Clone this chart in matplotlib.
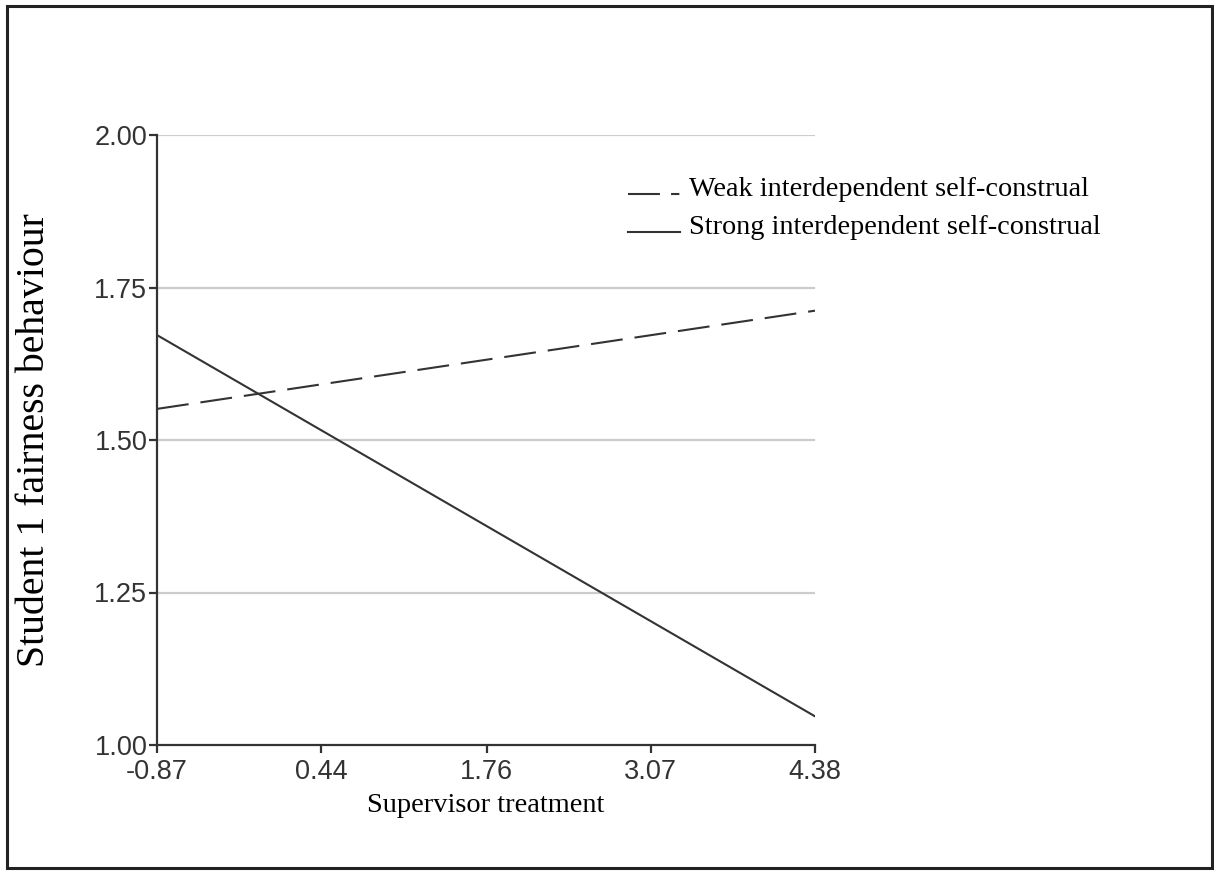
import matplotlib
matplotlib.use("Agg")
import matplotlib.pyplot as plt
from matplotlib.lines import Line2D
from matplotlib.patches import Rectangle

# simple slopes: fairness behaviour vs supervisor treatment
x_vals = [-0.87, 4.38]
weak_vals = [1.551, 1.712]
strong_vals = [1.672, 1.047]
x_ticks = [-0.87, 0.44, 1.76, 3.07, 4.38]
y_ticks = [1.00, 1.25, 1.50, 1.75, 2.00]
series_labels = ["Weak interdependent self-construal",
                 "Strong interdependent self-construal"]

plt.rcParams['lines.scale_dashes'] = False

fig = plt.figure(figsize=(12.14, 8.72), dpi=100)
fig.patch.set_facecolor('white')
ax = fig.add_axes([157/1214, 1 - 745/872, (815-157)/1214, (745-135)/872])

line_col = '#333333'
ax.plot(x_vals, weak_vals, color=line_col, lw=1.5, dashes=(23, 8.6), zorder=3)
ax.plot(x_vals, strong_vals, color=line_col, lw=1.5, zorder=3)

ax.set_xlim(-0.87, 4.38)
ax.set_ylim(1.0, 2.0)
ax.set_xticks(x_ticks)
ax.set_xticklabels([f"{v:.2f}" for v in x_ticks])
ax.set_yticks(y_ticks)
ax.set_yticklabels([f"{v:.2f}" for v in y_ticks])

for v in y_ticks[1:]:
    ax.axhline(v, color='#cccccc', lw=1.6, zorder=1)

for s in ['top', 'right']:
    ax.spines[s].set_visible(False)
for s in ['left', 'bottom']:
    ax.spines[s].set_color('#333333')
    ax.spines[s].set_linewidth(1.6)

ax.tick_params(axis='both', length=6, width=1.6, color='#333333', labelcolor='#333333')
ax.tick_params(axis='y', pad=1)
ax.tick_params(axis='x', pad=4)
for lab in ax.get_xticklabels() + ax.get_yticklabels():
    lab.set_fontfamily('Liberation Sans')
    lab.set_fontsize(19.5)

ax.set_xlabel("Supervisor treatment", family='Liberation Serif', fontsize=20.4, labelpad=6)
ax.set_ylabel("Student 1 fairness behaviour", family='Liberation Serif', fontsize=28.6, labelpad=30)

handles = [Line2D([], [], color=line_col, lw=1.5, dashes=(23, 8, 6, 8)),
           Line2D([], [], color=line_col, lw=1.5)]
leg = fig.legend(handles, series_labels, loc='upper left',
                 bbox_to_anchor=(628/1214, 1 - 176/872), frameon=False,
                 prop={'family': 'Liberation Serif', 'size': 20.3},
                 handlelength=1.85, handletextpad=0.3, labelspacing=0.45,
                 borderaxespad=0, borderpad=0)
# handles in the original sit on the text baseline
for h in leg.get_lines():
    h.set_transform(h.get_transform() + matplotlib.transforms.Affine2D().translate(0, -8))

fig.add_artist(Rectangle((7/1214, 4/872), 1205/1214, 862/872, transform=fig.transFigure,
                         fill=False, lw=2.2, ec='#222222'))

fig.savefig("out.png", dpi=100, facecolor='white')
